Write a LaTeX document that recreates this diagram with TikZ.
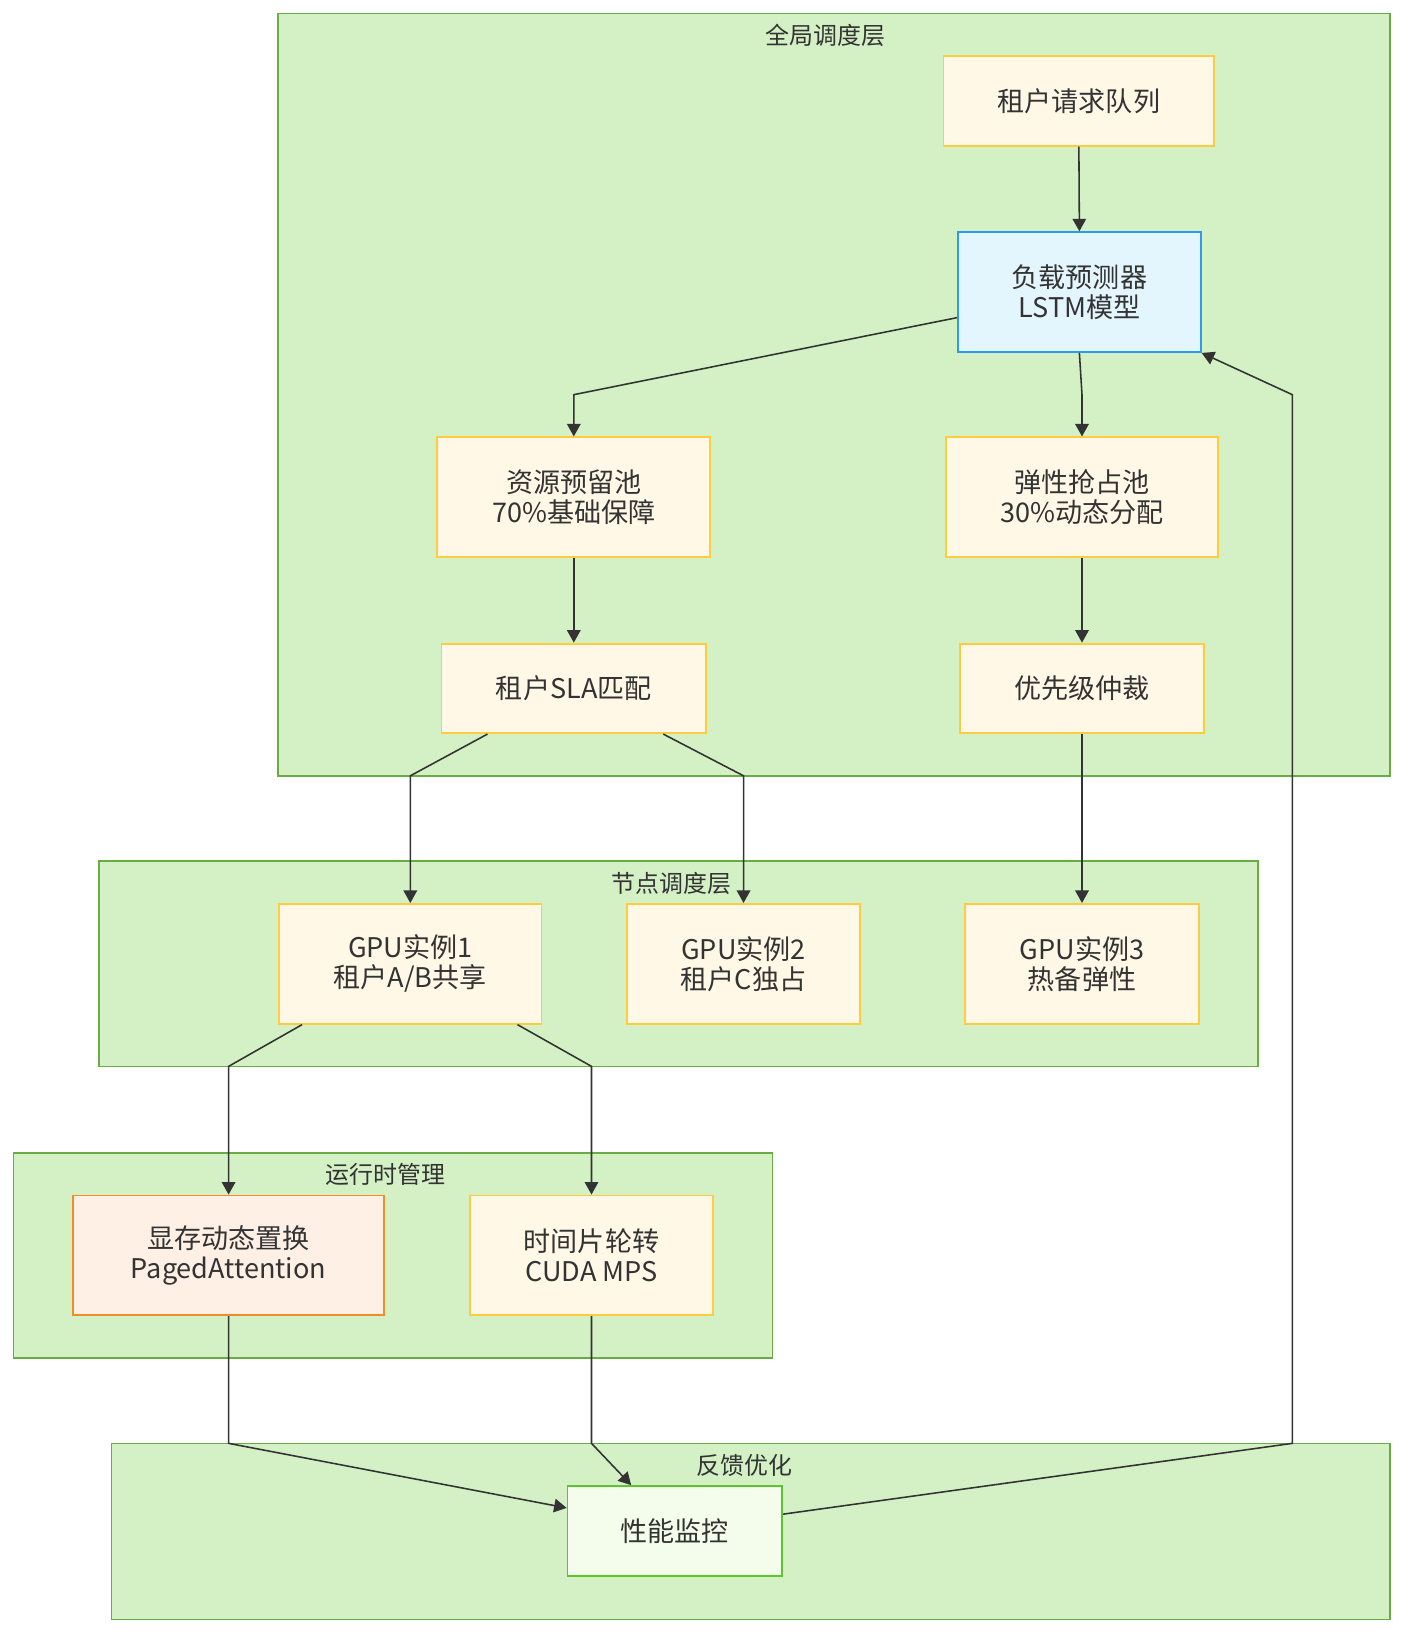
\documentclass[tikz,border=0pt]{standalone}
\usepackage{fontspec}
\setmainfont{Noto Sans CJK SC}
\usetikzlibrary{arrows.meta}
\definecolor{clfill}{HTML}{D4F1C5}
\definecolor{cldraw}{HTML}{6AAB45}
\definecolor{yfill}{HTML}{FFF8E6}
\definecolor{ydraw}{HTML}{FFCC40}
\definecolor{bfill}{HTML}{E3F5FD}
\definecolor{bdraw}{HTML}{2D9AF0}
\definecolor{ofill}{HTML}{FFF0E6}
\definecolor{odraw}{HTML}{F28C28}
\definecolor{gfill}{HTML}{F4FDEB}
\definecolor{gdraw}{HTML}{5CC62C}
\definecolor{txt}{HTML}{333333}
\tikzset{
  cluster/.style={draw=cldraw, fill=clfill, line width=1.5pt, inner sep=0pt},
  cltitle/.style={text=txt, font=\fontsize{23}{26}\selectfont, inner sep=0pt},
  box/.style={draw=ydraw, fill=yfill, line width=1.8pt, align=center, inner sep=0pt, text=txt, font=\fontsize{26}{29}\selectfont},
  bluebox/.style={box, draw=bdraw, fill=bfill},
  orangebox/.style={box, draw=odraw, fill=ofill},
  greenbox/.style={box, draw=gdraw, fill=gfill},
  edge/.style={draw=txt, line width=1.5pt, -{Triangle[length=12pt,width=13pt]}}
}
\begin{document}
\begin{tikzpicture}[x=1pt,y=-1pt]
\useasboundingbox[fill=white] (0,0) rectangle (1352,1571);
% clusters
\node[cluster, minimum width=1068pt, minimum height=732pt] (cg) at (801,379) {};
\node[cltitle] (cgt) at (793,34) {全局调度层};
\node[cluster, minimum width=1113pt, minimum height=197pt] (cn) at (651.5,925.5) {};
\node[cltitle] (cnt) at (645,848) {节点调度层};
\node[cluster, minimum width=729pt, minimum height=197pt] (cr) at (377.5,1205.5) {};
\node[cltitle] (crt) at (370,1128) {运行时管理};
\node[cluster, minimum width=1228pt, minimum height=169pt] (cf) at (721,1470.5) {};
\node[cltitle] (cft) at (715,1407) {反馈优化};
% nodes
\node[box, minimum width=260pt, minimum height=86pt] (req) at (1036,97) {租户请求队列};
\node[bluebox, minimum width=233pt, minimum height=115pt] (pred) at (1036.5,280.5) {负载预测器\\LSTM模型};
\node[box, minimum width=262pt, minimum height=115pt] (res) at (551,477.5) {资源预留池\\70\%基础保障};
\node[box, minimum width=262pt, minimum height=115pt] (ela) at (1039,477.5) {弹性抢占池\\30\%动态分配};
\node[box, minimum width=254pt, minimum height=86pt] (sla) at (551,661) {租户SLA匹配};
\node[box, minimum width=234pt, minimum height=86pt] (prio) at (1039,661) {优先级仲裁};
\node[box, minimum width=252pt, minimum height=115pt] (g1) at (394,925.5) {GPU实例1\\租户A/B共享};
\node[box, minimum width=224pt, minimum height=115pt] (g2) at (714,925.5) {GPU实例2\\租户C独占};
\node[box, minimum width=224pt, minimum height=115pt] (g3) at (1039,925.5) {GPU实例3\\热备弹性};
\node[orangebox, minimum width=299pt, minimum height=115pt] (mem) at (219.5,1205.5) {显存动态置换\\PagedAttention};
\node[box, minimum width=234pt, minimum height=115pt] (ts) at (568,1205.5) {时间片轮转\\CUDA MPS};
\node[greenbox, minimum width=206pt, minimum height=86pt] (perf) at (648,1470) {性能监控};
% edges
\draw[edge] (req.south) -- (pred.north);
\draw[edge] ([yshift=-24.5pt]pred.west) -- (551,379) -- (res.north);
\draw[edge] (pred.south) -- (1039,379) -- (ela.north);
\draw[edge] (res.south) -- (sla.north);
\draw[edge] (ela.south) -- (prio.north);
\draw[edge] ([xshift=45pt]sla.south west) -- (394,745) -- (g1.north);
\draw[edge] ([xshift=-42pt]sla.south east) -- (714,745) -- (g2.north);
\draw[edge] (prio.south) -- (g3.north);
\draw[edge] ([xshift=23pt]g1.south west) -- (219.5,1024) -- (mem.north);
\draw[edge] ([xshift=-24pt]g1.south east) -- (568,1024) -- (ts.north);
\draw[edge] (mem.south) -- (219.5,1386) -- ([yshift=22pt]perf.west);
\draw[edge] (ts.south) -- (568,1386) -- ([xshift=62pt]perf.north west);
\draw[edge] ([yshift=16pt]perf.east) -- (1241,1386) -- (1241,379) -- (pred.south east);
\end{tikzpicture}
\end{document}
